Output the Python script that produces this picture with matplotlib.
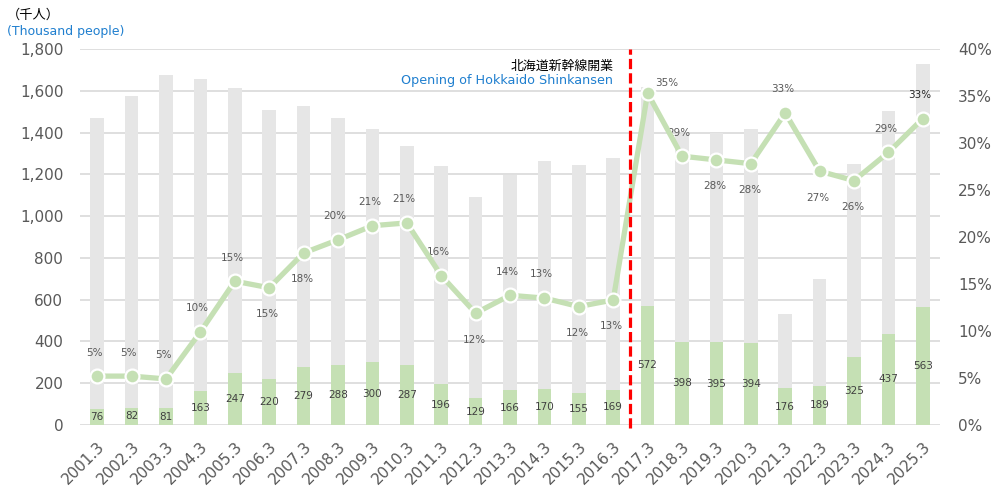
import matplotlib
matplotlib.use("Agg")
import matplotlib.pyplot as plt
from matplotlib.ticker import FuncFormatter

plt.rcParams['font.family'] = ['DejaVu Sans', 'Noto Sans CJK JP']

years = ['2001.3', '2002.3', '2003.3', '2004.3', '2005.3', '2006.3', '2007.3',
         '2008.3', '2009.3', '2010.3', '2011.3', '2012.3', '2013.3', '2014.3',
         '2015.3', '2016.3', '2017.3', '2018.3', '2019.3', '2020.3', '2021.3',
         '2022.3', '2023.3', '2024.3', '2025.3']
# total (grey bars), thousand people
total = [1470, 1575, 1675, 1656, 1613, 1508, 1527, 1470, 1417, 1336, 1240, 1091,
         1197, 1264, 1245, 1278, 1620, 1392, 1400, 1417, 530, 700, 1250, 1503, 1727]
# green part, thousand people
part = [76, 82, 81, 163, 247, 220, 279, 288, 300, 287, 196, 129, 166, 170, 155,
        169, 572, 398, 395, 394, 176, 189, 325, 437, 563]
# share (line), %
share = [5.2, 5.2, 4.9, 9.9, 15.3, 14.6, 18.3, 19.7, 21.2, 21.5, 15.9, 11.9, 13.8,
         13.5, 12.6, 13.3, 35.3, 28.6, 28.2, 27.8, 33.2, 27.0, 26.0, 29.0, 32.6]
share_labels = ['5%', '5%', '5%', '10%', '15%', '15%', '18%', '20%', '21%', '21%',
                '16%', '12%', '14%', '13%', '12%', '13%', '35%', '29%', '28%', '28%',
                '33%', '27%', '26%', '29%', '33%']
label_pos = ['a', 'a', 'a', 'a', 'a', 'b', 'b', 'a', 'a', 'a', 'a', 'b', 'a', 'a',
             'b', 'b', 'r', 'a', 'b', 'b', 'a', 'b', 'b', 'a', 'a']

grey_bar = '#e6e6e6'
green = '#c5e0b4'
txt = '#595959'
blue = '#1f7fcf'

fig = plt.figure(figsize=(9.94, 4.88), dpi=100)
ax = fig.add_axes([80 / 994, 63 / 488, 860 / 994, 376 / 488])
x = list(range(len(years)))

ax.bar(x, total, width=0.4, color=grey_bar, zorder=2)
ax.bar(x, part, width=0.4, color=green, zorder=3)
for i, v in enumerate(part):
    ax.text(i, v / 2, str(v), ha='center', va='center', fontsize=7.5,
            color='#404040', zorder=4)

ax.set_xlim(-0.5, len(years) - 0.5)
ax.set_ylim(0, 1800)
ax.set_yticks(range(0, 1801, 200))
ax.yaxis.set_major_formatter(FuncFormatter(lambda v, p: f'{int(v):,}'))
ax.grid(axis='y', color='#d9d9d9', linewidth=1.2, zorder=0)
ax.set_axisbelow(True)
for s in ax.spines.values():
    s.set_visible(False)
ax.tick_params(axis='both', length=0, colors=txt, labelsize=11)
ax.tick_params(axis='y', pad=12)
ax.set_xticks(x)
ax.set_xticklabels(years, rotation=45, ha='right', rotation_mode='anchor')
ax.tick_params(axis='x', pad=10)

ax2 = ax.twinx()
ax2.set_ylim(0, 40)
ax2.set_yticks(range(0, 41, 5))
ax2.yaxis.set_major_formatter(FuncFormatter(lambda v, p: f'{int(v)}%'))
for s in ax2.spines.values():
    s.set_visible(False)
ax2.tick_params(axis='y', length=0, colors=txt, labelsize=11, pad=13)

# event line between 2016.3 and 2017.3
event = 15.5
ax2.plot([event, event], [-0.3, 40], color='#ff0000', lw=2.3, dashes=(3.2, 1.3),
         zorder=6, clip_on=False)

ax2.plot(x, share, color=green, lw=3.8, marker='o', markersize=10,
         markerfacecolor=green, markeredgecolor='white', markeredgewidth=1.6,
         zorder=5)
for i, (v, lab, p) in enumerate(zip(share, share_labels, label_pos)):
    c = '#262626' if i == len(share) - 1 else txt
    if p == 'a':
        ax2.annotate(lab, (i, v), xytext=(-2, 17), textcoords='offset points',
                     ha='center', va='center', fontsize=7.5, color=c)
    elif p == 'b':
        ax2.annotate(lab, (i, v), xytext=(-1, -19), textcoords='offset points',
                     ha='center', va='center', fontsize=7.5, color=c)
    else:
        ax2.annotate(lab, (i, v), xytext=(14, 7), textcoords='offset points',
                     ha='center', va='center', fontsize=7.5, color=c)

ax.text(event - 0.5, 1718, '北海道新幹線開業', ha='right', va='center',
        fontsize=9.3, color='#000000', zorder=7)
ax.text(event - 0.5, 1648, 'Opening of Hokkaido Shinkansen', ha='right', va='center',
        fontsize=9.2, color=blue, zorder=7)

fig.text(7 / 994, 1 - 15 / 488, '（千人）', ha='left', va='center', fontsize=9.5,
         color='#000000')
fig.text(7 / 994, 1 - 31 / 488, '(Thousand people)', ha='left', va='center',
         fontsize=9, color=blue)

fig.savefig('out.png', dpi=100)
